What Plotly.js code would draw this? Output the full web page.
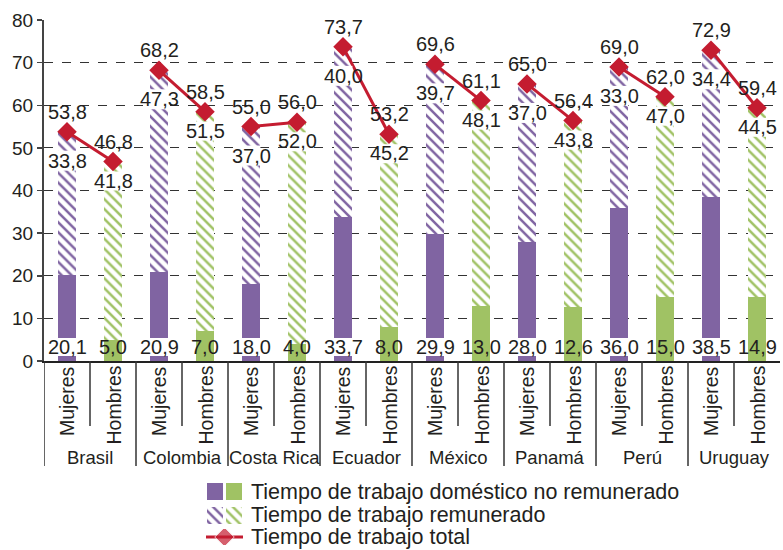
<!DOCTYPE html>
<html>
<head>
<meta charset="utf-8">
<script src="https://cdn.plot.ly/plotly-3.0.1.min.js"></script>
<style>html,body{margin:0;padding:0;background:#fff}#chart{width:783px;height:550px}</style>
</head>
<body>
<div id="chart"></div>
<script>
const countries = ['Brasil','Colombia','Costa Rica','Ecuador','México','Panamá','Perú','Uruguay'];
const sexes = ['Mujeres','Hombres'];
const unpaidM = [20.1,20.9,18.0,33.7,29.9,28.0,36.0,38.5];
const unpaidH = [5.0,7.0,4.0,8.0,13.0,12.6,15.0,14.9];
const paidM = [33.8,47.3,37.0,40.0,39.7,37.0,33.0,34.4];
const paidH = [41.8,51.5,52.0,45.2,48.1,43.8,47.0,44.5];
const totalM = [53.8,68.2,55.0,73.7,69.6,65.0,69.0,72.9];
const totalH = [46.8,58.5,56.0,53.2,61.1,56.4,62.0,59.4];
const legendLabels = ['Tiempo de trabajo doméstico no remunerado','Tiempo de trabajo remunerado','Tiempo de trabajo total'];

const W = 783, H = 550;
const px = x => x / W;
const py = y => 1 - y / H;
const PURPLE = '#8064a2', GREEN = '#a0c264', RED = '#c41c30', TXT = '#231f20';
const NUMFONT = 'Liberation Sans Narrow, Arial Narrow, Liberation Sans, Arial, sans-serif';
const FONT = 'Liberation Sans, Arial, sans-serif';
const NUMSIZE = 20;
const SHIFT_M = -29, SHIFT_H = -19;
const fmt = v => v.toFixed(1).replace('.', ',');

const xM = countries.map((c, i) => 2 * i);
const xH = countries.map((c, i) => 2 * i + 1);
const BW = 0.41;

const pat = c => ({shape: '\\', fgcolor: c, bgcolor: '#ffffff', size: 7, solidity: 0.36, fillmode: 'replace'});

const traces = [
  {type: 'bar', x: xM, y: unpaidM, width: BW, marker: {color: PURPLE, line: {width: 0}}, showlegend: false, hoverinfo: 'none'},
  {type: 'bar', x: xH, y: unpaidH, width: BW, marker: {color: GREEN, line: {width: 0}}, showlegend: false, hoverinfo: 'none'},
  {type: 'bar', x: xM, y: paidM, width: BW, marker: {color: PURPLE, pattern: pat(PURPLE), line: {width: 0}}, showlegend: false, hoverinfo: 'none'},
  {type: 'bar', x: xH, y: paidH, width: BW, marker: {color: GREEN, pattern: pat(GREEN), line: {width: 0}}, showlegend: false, hoverinfo: 'none'}
];

// total line, connected only within each country
const lx = [], ly = [];
countries.forEach((c, i) => { lx.push(xM[i], xH[i], null); ly.push(totalM[i], totalH[i], null); });
traces.push({type: 'scatter', mode: 'lines+markers', x: lx, y: ly, connectgaps: false,
  line: {color: RED, width: 3}, marker: {symbol: 'diamond', size: 15, color: RED}, showlegend: false, hoverinfo: 'none'});

// legend swatches (hidden axes)
traces.push({type: 'bar', xaxis: 'x2', yaxis: 'y2', x: [0, 1], y: [0.72, 0.72], base: [1.14, 1.14], width: 0.86,
  marker: {color: [PURPLE, GREEN]}, showlegend: false, hoverinfo: 'none'});
traces.push({type: 'bar', xaxis: 'x2', yaxis: 'y2', x: [0], y: [0.72], base: [0.14], width: 0.86,
  marker: {color: PURPLE, pattern: pat(PURPLE)}, showlegend: false, hoverinfo: 'none'});
traces.push({type: 'bar', xaxis: 'x2', yaxis: 'y2', x: [1], y: [0.72], base: [0.14], width: 0.86,
  marker: {color: GREEN, pattern: pat(GREEN)}, showlegend: false, hoverinfo: 'none'});
traces.push({type: 'scatter', xaxis: 'x2', yaxis: 'y3', mode: 'lines+markers', x: [-0.5, 0.5, 1.5], y: [0, 0, 0],
  line: {color: RED, width: 3}, marker: {symbol: 'diamond', size: [0, 15, 0], color: RED}, showlegend: false, hoverinfo: 'none'});

const ann = [];
const shapes = [];
const whiteBox = (xc, yAnchor, p0, p1) => shapes.push({type: 'rect', layer: 'above', xref: 'x', yref: 'y',
  x0: xc - BW / 2, x1: xc + BW / 2, ysizemode: 'pixel', yanchor: yAnchor, y0: p0, y1: p1,
  fillcolor: '#ffffff', line: {width: 0}});

countries.forEach((c, i) => {
  // bottom (unpaid) labels
  whiteBox(xM[i], 0, 5, 23);
  ann.push({x: xM[i], y: 0, xref: 'x', yref: 'y', yanchor: 'middle', yshift: 14, text: fmt(unpaidM[i]), showarrow: false,
    font: {family: NUMFONT, size: NUMSIZE, color: TXT}});
  ann.push({x: xH[i], y: 0, xref: 'x', yref: 'y', yanchor: 'middle', yshift: 14, text: fmt(unpaidH[i]), showarrow: false,
    font: {family: NUMFONT, size: NUMSIZE, color: TXT}});
  // paid labels
  whiteBox(xM[i], totalM[i], SHIFT_M - 10, SHIFT_M + 10);
  whiteBox(xH[i], totalH[i], SHIFT_H - 10, SHIFT_H + 9);
  ann.push({x: xM[i], y: totalM[i], xref: 'x', yref: 'y', yanchor: 'middle', yshift: SHIFT_M, text: fmt(paidM[i]), showarrow: false,
    font: {family: NUMFONT, size: NUMSIZE, color: TXT}});
  ann.push({x: xH[i], y: totalH[i], xref: 'x', yref: 'y', yanchor: 'middle', yshift: SHIFT_H, text: fmt(paidH[i]), showarrow: false,
    font: {family: NUMFONT, size: NUMSIZE, color: TXT}});
  // total labels
  ann.push({x: xM[i], y: totalM[i], xref: 'x', yref: 'y', yanchor: 'bottom', yshift: 7, text: fmt(totalM[i]), showarrow: false,
    font: {family: NUMFONT, size: NUMSIZE, color: TXT}});
  ann.push({x: xH[i], y: totalH[i], xref: 'x', yref: 'y', yanchor: 'bottom', yshift: 7, text: fmt(totalH[i]), showarrow: false,
    font: {family: NUMFONT, size: NUMSIZE, color: TXT}});
  // category labels
  [xM[i], xH[i]].forEach((xx, k) => {
    ann.push({x: xx, y: py(364), xref: 'x', yref: 'paper', yanchor: 'top', xanchor: 'center', textangle: -90,
      text: sexes[k], showarrow: false, font: {family: FONT, size: 19.5, color: TXT}});
  });
  ann.push({x: xM[i] + 0.5, y: py(457), xref: 'x', yref: 'paper', yanchor: 'middle', text: c, showarrow: false,
    font: {family: FONT, size: 18.5, color: TXT}});
});
legendLabels.forEach((t, k) => {
  ann.push({x: px(249), y: py([491.5, 515, 537][k]), xref: 'paper', yref: 'paper', xanchor: 'left', yanchor: 'middle',
    text: t, showarrow: false, font: {family: FONT, size: 21.5, color: TXT}});
});

for (let b = -0.5; b < 15; b += 1) {
  const isCountry = Math.round(b + 0.5) % 2 === 0;
  shapes.push({type: 'line', xref: 'x', yref: 'paper', x0: b, x1: b, y0: py(361), y1: py(isCountry ? 466 : 426),
    line: {color: '#333', width: 1.5}});
}

const layout = {
  width: W, height: H,
  margin: {l: 0, r: 0, t: 0, b: 0},
  paper_bgcolor: '#fff', plot_bgcolor: '#fff',
  barmode: 'stack', showlegend: false,
  xaxis: {domain: [px(44), px(780)], range: [-0.5, 15.5], showticklabels: false, ticks: '', showgrid: false,
    zeroline: false, showline: true, linecolor: '#222', linewidth: 2, fixedrange: true},
  yaxis: {domain: [py(361), py(20)], range: [0, 80], dtick: 10, tick0: 0, showgrid: true, gridcolor: '#333',
    griddash: 'dash', gridwidth: 1, zeroline: false, showline: true, linecolor: '#444', linewidth: 2,
    ticks: 'outside', ticklen: 5, tickcolor: '#444', tickwidth: 1.5,
    tickfont: {family: FONT, size: 19, color: TXT}, fixedrange: true},
  xaxis2: {domain: [px(206), px(243)], range: [-0.5, 1.5], visible: false, anchor: 'y2', fixedrange: true},
  yaxis2: {domain: [py(527), py(480)], range: [0, 2], visible: false, anchor: 'x2', fixedrange: true},
  yaxis3: {domain: [py(545), py(529)], range: [-1, 1], visible: false, anchor: 'x2', fixedrange: true},
  annotations: ann,
  shapes: shapes
};

Plotly.newPlot('chart', traces, layout, {staticPlot: true, displayModeBar: false});
</script>
</body>
</html>
